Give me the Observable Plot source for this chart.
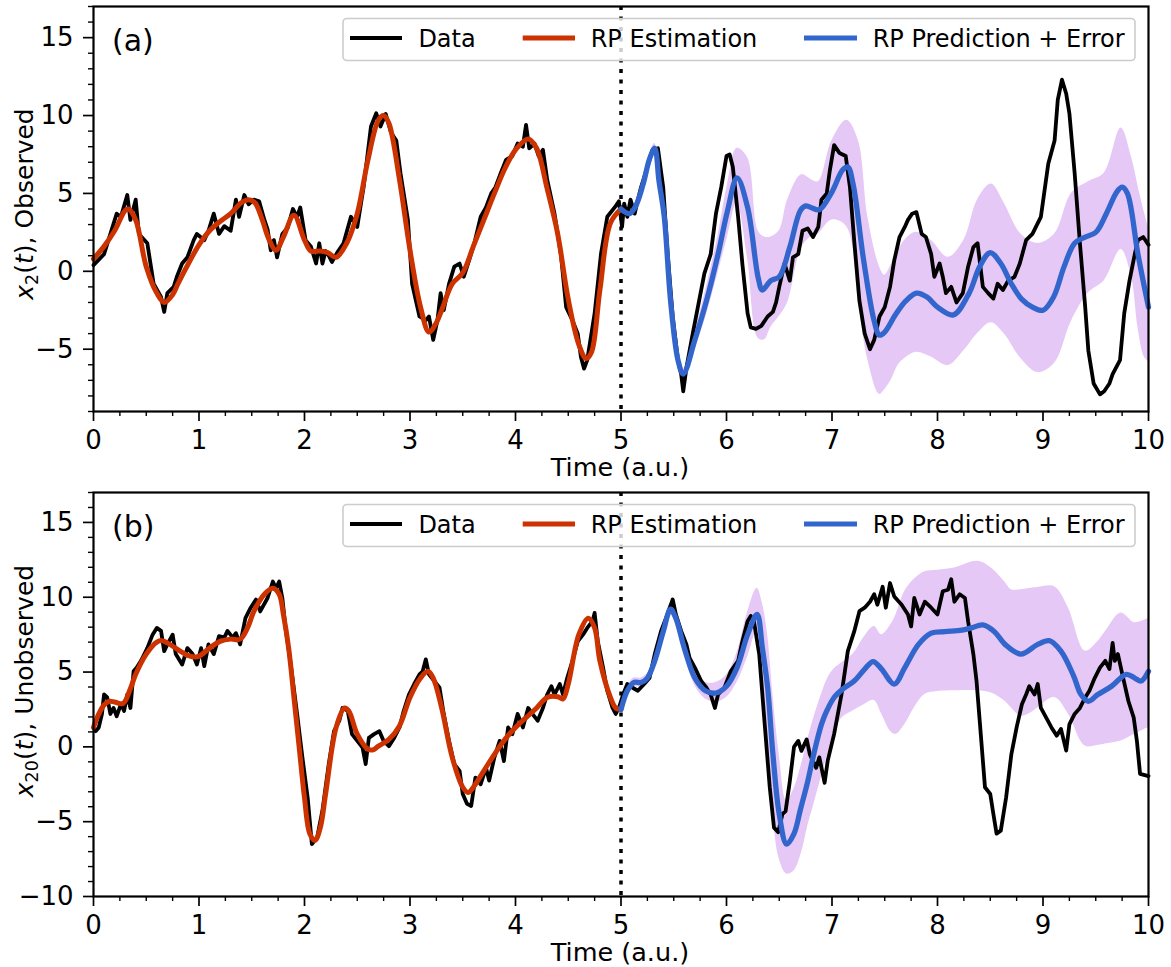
<!DOCTYPE html>
<html>
<head>
<meta charset="utf-8">
<script src="https://cdn.jsdelivr.net/npm/d3@7"></script>
<script src="https://cdn.jsdelivr.net/npm/@observablehq/plot@0.6"></script>
<style>
  html, body { margin: 0; padding: 0; background: #fff; }
  #fig { position: relative; width: 1171px; height: 967px; font-family: "DejaVu Sans", sans-serif; }
  #fig > div { position: absolute; left: 0; }
</style>
</head>
<body>
<div id="fig">
  <div id="panelA" style="top:0"></div>
  <div id="panelB" style="top:480px"></div>
</div>
<script>
// ---- Axis ticks and labels ----
const xMajorTicks = [0, 1, 2, 3, 4, 5, 6, 7, 8, 9, 10];
const aYMajorTicks = [-5, 0, 5, 10, 15];
const bYMajorTicks = [-10, -5, 0, 5, 10, 15];
const aYDomain = [-9, 17];
const bYDomain = [-10, 17];
const xTitle = "Time (a.u.)";
const panelTags = ["(a)", "(b)"];
const seriesNames = ["Data", "RP Estimation", "RP Prediction + Error"];
const splitTime = 5;

// ---- Panel (a): observed x2(t) ----  [time, value]
const aData = [[0,0.4],[0.1,1.1],[0.16,2.4],[0.22,3.7],[0.26,3.5],[0.32,4.9],[0.35,3.3],[0.4,4.6],[0.43,2.4],[0.51,1.8],[0.57,-0.8],[0.64,-1.65],[0.67,-2.6],[0.7,-1.4],[0.76,-1.0],[0.79,-0.35],[0.84,0.5],[0.89,0.9],[0.95,2.0],[0.98,2.4],[1.05,2.0],[1.09,2.6],[1.14,3.7],[1.19,2.4],[1.24,2.9],[1.3,2.6],[1.35,4.6],[1.38,3.5],[1.43,4.9],[1.47,4.3],[1.52,4.6],[1.57,4.5],[1.62,3.3],[1.65,2.7],[1.68,1.35],[1.71,2.0],[1.74,0.9],[1.79,2.4],[1.84,2.8],[1.89,4.0],[1.93,3.5],[1.96,4.1],[2.01,2.0],[2.06,1.6],[2.11,0.5],[2.14,1.8],[2.17,0.5],[2.2,1.3],[2.23,1.0],[2.26,0.6],[2.31,1.2],[2.37,1.8],[2.44,3.5],[2.5,2.85],[2.56,5.4],[2.63,9.3],[2.68,10.15],[2.72,9.3],[2.77,10.1],[2.82,8.9],[2.87,8.4],[2.91,6.3],[2.98,3.3],[3.02,-0.8],[3.09,-2.9],[3.15,-3.15],[3.18,-2.9],[3.22,-4.4],[3.26,-3.15],[3.29,-1.4],[3.32,-2.5],[3.37,-0.8],[3.42,0.3],[3.47,0.5],[3.51,-0.35],[3.56,0.7],[3.61,1.8],[3.67,3.5],[3.72,4.1],[3.77,5.0],[3.81,5.4],[3.86,6.3],[3.91,7.15],[3.97,7.4],[4.02,8.2],[4.07,8.0],[4.1,9.4],[4.13,7.9],[4.18,8.2],[4.22,7.4],[4.26,7.8],[4.3,5.9],[4.37,3.7],[4.43,1.1],[4.48,-2.3],[4.54,-3.15],[4.59,-4.0],[4.62,-5.5],[4.65,-6.25],[4.68,-5.7],[4.75,-2.7],[4.81,1.1],[4.87,3.5],[4.94,4.1],[4.98,4.5],[5.01,2.85],[5.03,4.35],[5.06,3.5],[5.09,4.6],[5.13,3.7],[5.16,4.6],[5.19,5.4],[5.25,6.7],[5.3,7.8],[5.35,7.9],[5.4,5.4],[5.44,1.35],[5.49,-2.9],[5.54,-5.7],[5.57,-6.6],[5.59,-7.7],[5.62,-6.2],[5.68,-4.0],[5.74,-1.9],[5.79,-0.15],[5.85,1.1],[5.9,3.7],[5.95,5.4],[6.0,7.4],[6.03,7.5],[6.06,6.7],[6.11,3.5],[6.15,0.5],[6.2,-2.7],[6.23,-3.6],[6.28,-3.7],[6.33,-3.5],[6.39,-2.9],[6.44,-2.6],[6.47,-2.0],[6.5,-1.0],[6.55,0.5],[6.6,-0.6],[6.63,0.9],[6.68,1.1],[6.72,2.6],[6.77,2.75],[6.82,2.2],[6.87,2.85],[6.9,4.6],[6.95,5.0],[6.98,6.5],[7.02,8.1],[7.07,7.6],[7.13,7.4],[7.17,5.4],[7.21,2.0],[7.26,-1.9],[7.31,-4.0],[7.36,-5.0],[7.4,-4.4],[7.45,-2.9],[7.5,-2.3],[7.55,-1.0],[7.59,0.7],[7.64,2.2],[7.69,2.85],[7.72,3.3],[7.76,3.7],[7.8,3.8],[7.85,2.4],[7.89,2.2],[7.94,1.1],[7.97,-0.35],[8.02,0.5],[8.05,-0.35],[8.08,-1.4],[8.13,-1.0],[8.18,-2.0],[8.24,-1.4],[8.29,0.3],[8.34,1.55],[8.38,1.8],[8.43,-1.0],[8.48,-1.4],[8.53,-1.75],[8.57,-0.8],[8.62,-1.2],[8.67,-0.6],[8.73,-0.35],[8.78,0.5],[8.84,2.0],[8.9,2.4],[8.98,3.5],[9.05,6.9],[9.11,8.4],[9.14,11.0],[9.18,12.3],[9.22,11.4],[9.25,10.15],[9.3,6.3],[9.35,1.8],[9.4,-2.3],[9.43,-5.1],[9.48,-7.2],[9.54,-7.9],[9.58,-7.7],[9.63,-7.2],[9.66,-6.6],[9.73,-5.7],[9.77,-2.7],[9.82,-0.6],[9.87,1.1],[9.9,2.0],[9.95,2.2],[10,1.7]];
const aEst = [[0,0.8],[0.1,1.6],[0.2,2.6],[0.3,3.9],[0.33,4.0],[0.4,3.3],[0.5,0.3],[0.6,-1.4],[0.67,-2.0],[0.75,-1.5],[0.8,-0.8],[0.9,0.5],[1.0,1.7],[1.1,2.6],[1.2,3.2],[1.3,3.7],[1.4,4.4],[1.47,4.6],[1.53,4.4],[1.6,3.3],[1.66,2.1],[1.73,1.35],[1.8,2.2],[1.9,3.6],[2.0,2.0],[2.06,1.3],[2.15,1.3],[2.22,1.2],[2.3,0.9],[2.4,1.8],[2.5,3.7],[2.6,7.1],[2.7,9.7],[2.75,10.0],[2.8,9.5],[2.9,5.9],[3.0,1.35],[3.1,-2.3],[3.18,-3.9],[3.25,-3.3],[3.3,-2.5],[3.4,-0.8],[3.5,-0.1],[3.6,1.6],[3.7,3.3],[3.8,5.0],[3.9,6.6],[4.0,7.8],[4.12,8.5],[4.2,7.9],[4.3,5.3],[4.4,2.4],[4.5,-1.8],[4.6,-4.7],[4.67,-5.6],[4.72,-5.2],[4.8,-1.2],[4.9,3.1],[5.0,4.0]];
const aPred = [[5.0,4.0],[5.08,3.7],[5.14,4.2],[5.21,5.6],[5.27,7.2],[5.32,7.9],[5.36,5.8],[5.41,3.5],[5.47,-1.9],[5.54,-5.7],[5.59,-6.6],[5.7,-4.4],[5.81,-1.9],[5.92,1.1],[6.01,3.9],[6.1,6.0],[6.2,4.1],[6.3,-0.4],[6.34,-1.2],[6.42,-0.6],[6.5,-0.35],[6.6,1.55],[6.7,3.9],[6.75,4.2],[6.8,4.1],[6.88,3.95],[7.0,5.1],[7.1,6.5],[7.15,6.7],[7.2,5.6],[7.3,0.7],[7.4,-3.2],[7.45,-4.1],[7.5,-3.9],[7.6,-2.8],[7.7,-1.9],[7.8,-1.4],[7.9,-1.65],[8.0,-2.3],[8.15,-2.8],[8.3,-1.4],[8.4,0.3],[8.5,1.2],[8.6,0.5],[8.7,-0.8],[8.8,-1.8],[8.9,-2.3],[9.0,-2.5],[9.1,-1.65],[9.2,0.3],[9.3,1.8],[9.4,2.2],[9.5,2.5],[9.6,3.7],[9.7,5.1],[9.75,5.4],[9.8,5.0],[9.9,1.1],[10,-2.3]];
// [time, lower, upper]
const aBand = [[5.0,3.9,4.1],[5.08,3.5,3.9],[5.14,4.0,4.4],[5.21,5.3,5.9],[5.27,6.9,7.5],[5.32,7.6,8.2],[5.36,5.4,6.3],[5.41,3.0,3.9],[5.47,-2.3,-1.5],[5.54,-6.0,-5.3],[5.59,-6.9,-6.3],[5.7,-5.0,-3.9],[5.81,-2.8,-1.0],[5.92,-0.1,2.3],[6.01,2.2,5.6],[6.1,4.4,7.9],[6.2,0.8,7.3],[6.3,-4.3,2.6],[6.36,-4.4,2.2],[6.42,-3.6,2.2],[6.5,-2.9,2.6],[6.58,-2.0,4.6],[6.71,1.5,6.2],[6.8,2.2,5.9],[6.87,2.4,5.75],[7.0,3.3,8.4],[7.14,2.85,9.7],[7.25,-1.9,8.4],[7.34,-5.7,3.5],[7.45,-7.9,0.3],[7.5,-7.6,-0.25],[7.56,-7.0,0.4],[7.63,-6.0,1.35],[7.69,-5.6,2.0],[7.8,-5.2,2.5],[7.94,-5.5,2.0],[8.1,-6.05,0.9],[8.25,-5.1,2.0],[8.38,-4.0,4.6],[8.51,-3.3,5.6],[8.63,-4.0,4.4],[8.79,-5.6,2.4],[8.95,-6.5,1.8],[9.11,-5.9,2.4],[9.27,-3.2,5.0],[9.43,-1.4,5.75],[9.58,-0.6,6.3],[9.74,1.4,9.2],[9.84,-0.4,7.3],[9.9,-3.6,5.5],[9.96,-5.5,3.8],[10,-5.8,2.8]];

// ---- Panel (b): unobserved x20(t) ----  [time, value]
const bData = [[0,1.3],[0.02,1.05],[0.05,1.3],[0.08,2.2],[0.1,3.5],[0.13,3.3],[0.16,2.2],[0.19,2.6],[0.22,2.05],[0.26,2.85],[0.29,2.4],[0.32,3.5],[0.35,2.6],[0.38,5.05],[0.41,5.3],[0.45,5.75],[0.51,6.6],[0.56,7.5],[0.6,7.95],[0.64,7.75],[0.67,6.4],[0.7,6.85],[0.75,7.5],[0.78,6.2],[0.84,5.5],[0.89,6.6],[0.94,6.2],[0.98,5.5],[1.02,6.6],[1.05,5.4],[1.09,6.85],[1.14,6.2],[1.19,7.4],[1.24,7.3],[1.27,7.75],[1.32,7.3],[1.35,7.6],[1.39,6.85],[1.44,8.6],[1.49,9.3],[1.54,9.85],[1.58,9.05],[1.65,9.95],[1.7,11.05],[1.73,10.6],[1.76,11.05],[1.79,9.95],[1.82,7.95],[1.87,5.5],[1.93,2.2],[1.98,-0.7],[2.03,-3.4],[2.07,-6.5],[2.12,-6.05],[2.17,-4.25],[2.23,-1.15],[2.28,1.05],[2.33,1.75],[2.36,2.6],[2.41,2.4],[2.45,0.85],[2.5,0.4],[2.55,-0.05],[2.58,-1.15],[2.61,0.6],[2.66,0.85],[2.71,1.05],[2.75,0.4],[2.8,0.05],[2.85,0.6],[2.9,1.3],[2.94,2.4],[2.99,3.5],[3.04,4.2],[3.09,4.85],[3.12,5.05],[3.15,5.85],[3.18,4.85],[3.23,4.4],[3.28,3.95],[3.32,2.2],[3.37,0.4],[3.42,-1.15],[3.47,-1.6],[3.5,-3.15],[3.54,-3.8],[3.58,-3.95],[3.62,-2.05],[3.67,-2.5],[3.72,-1.4],[3.75,-2.25],[3.8,-0.7],[3.85,0.4],[3.89,-0.95],[3.93,1.3],[3.97,0.85],[4.02,2.2],[4.07,1.3],[4.12,2.6],[4.16,2.2],[4.21,1.75],[4.26,2.6],[4.3,3.5],[4.34,4.05],[4.37,3.5],[4.42,4.2],[4.45,3.5],[4.49,4.6],[4.54,5.75],[4.59,7.05],[4.64,7.5],[4.68,7.95],[4.73,8.4],[4.75,8.95],[4.78,7.05],[4.83,5.3],[4.87,3.75],[4.92,2.6],[4.95,2.2],[4.98,2.6],[5.02,3.5],[5.06,4.2],[5.11,3.95],[5.16,3.75],[5.22,4.2],[5.27,4.6],[5.32,6.2],[5.38,7.75],[5.44,8.85],[5.49,9.85],[5.52,8.85],[5.57,7.75],[5.62,6.85],[5.65,5.95],[5.7,5.3],[5.76,4.4],[5.81,3.95],[5.85,3.5],[5.89,2.6],[5.92,3.5],[5.98,3.95],[6.04,5.05],[6.11,5.75],[6.15,7.05],[6.2,8.4],[6.23,8.75],[6.26,8.4],[6.31,6.2],[6.36,1.7],[6.41,-2.7],[6.45,-5.4],[6.49,-5.7],[6.53,-4.5],[6.56,-4.3],[6.6,-2.3],[6.64,0.0],[6.68,0.4],[6.71,-0.27],[6.76,0.5],[6.79,-0.5],[6.85,-1.4],[6.88,-0.7],[6.93,-2.4],[6.96,-0.9],[7.02,0.85],[7.09,3.5],[7.15,6.4],[7.21,7.7],[7.26,9.07],[7.31,9.3],[7.36,9.7],[7.4,10.2],[7.43,9.5],[7.48,10.7],[7.51,9.3],[7.55,10.95],[7.59,10.05],[7.66,9.5],[7.72,8.85],[7.75,8.05],[7.78,9.95],[7.83,8.85],[7.88,9.7],[7.94,9.3],[8.0,8.85],[8.05,10.4],[8.1,10.5],[8.13,11.2],[8.16,9.7],[8.21,10.2],[8.26,9.95],[8.29,8.4],[8.34,6.2],[8.37,4.4],[8.4,1.75],[8.45,-2.7],[8.5,-3.15],[8.53,-4.5],[8.56,-5.8],[8.6,-5.6],[8.65,-3.4],[8.7,-0.5],[8.75,1.3],[8.8,2.85],[8.84,3.5],[8.87,4.05],[8.92,3.5],[8.95,4.2],[8.98,2.6],[9.03,1.95],[9.08,1.3],[9.13,0.75],[9.17,1.2],[9.22,-0.25],[9.25,1.5],[9.3,2.2],[9.35,2.6],[9.4,3.3],[9.44,3.75],[9.49,4.6],[9.54,5.3],[9.59,5.75],[9.63,5.2],[9.66,6.95],[9.68,5.75],[9.71,6.2],[9.76,4.6],[9.81,3.05],[9.86,1.95],[9.89,0.4],[9.92,-1.8],[10,-1.95]];
const bEst = [[0,1.3],[0.05,2.2],[0.1,2.8],[0.15,3.05],[0.2,3.0],[0.28,2.9],[0.35,3.9],[0.4,4.85],[0.5,6.2],[0.6,7.0],[0.65,7.1],[0.7,6.95],[0.8,6.5],[0.9,6.1],[0.97,6.0],[1.0,6.05],[1.1,6.6],[1.2,7.05],[1.3,7.2],[1.39,7.2],[1.46,7.95],[1.52,9.05],[1.62,10.2],[1.7,10.6],[1.76,10.2],[1.8,8.85],[1.85,6.6],[1.9,3.3],[1.95,-0.05],[2.0,-3.4],[2.05,-5.8],[2.1,-6.25],[2.15,-5.4],[2.2,-3.15],[2.3,1.3],[2.38,2.6],[2.42,2.4],[2.5,0.85],[2.6,-0.15],[2.65,-0.2],[2.7,0.05],[2.8,0.5],[2.9,1.4],[3.0,3.3],[3.1,4.6],[3.17,5.05],[3.22,4.6],[3.3,2.6],[3.4,-0.7],[3.5,-2.7],[3.55,-3.05],[3.6,-2.7],[3.7,-1.6],[3.8,-0.5],[3.9,0.5],[4.0,1.3],[4.1,1.95],[4.2,2.6],[4.3,3.3],[4.4,3.35],[4.45,3.2],[4.5,4.2],[4.6,7.5],[4.69,8.6],[4.75,7.95],[4.8,5.75],[4.9,3.3],[4.95,2.6],[5.0,2.5]];
const bPred = [[5.0,2.5],[5.06,3.75],[5.12,4.3],[5.19,4.3],[5.25,4.6],[5.32,5.75],[5.4,7.7],[5.47,9.2],[5.52,8.6],[5.6,6.6],[5.7,4.6],[5.8,3.75],[5.9,3.6],[6.0,4.05],[6.1,5.3],[6.2,7.5],[6.29,8.85],[6.34,6.6],[6.39,3.95],[6.44,-0.5],[6.5,-4.5],[6.57,-6.5],[6.64,-5.8],[6.7,-4.2],[6.77,-2.3],[6.83,-0.4],[6.9,1.5],[6.95,2.4],[7.02,3.3],[7.1,3.85],[7.21,4.4],[7.31,5.2],[7.39,5.7],[7.47,5.2],[7.59,4.2],[7.69,5.3],[7.82,6.85],[7.94,7.6],[8.07,7.7],[8.23,7.8],[8.32,7.95],[8.43,8.15],[8.54,7.7],[8.64,6.85],[8.79,6.2],[8.95,6.85],[9.06,7.1],[9.17,6.4],[9.29,4.75],[9.36,3.5],[9.43,3.05],[9.52,3.5],[9.65,4.05],[9.79,4.85],[9.87,4.6],[9.93,4.4],[10,5.05]];
const bBand = [[5.0,2.3,2.7],[5.06,3.5,4.0],[5.12,4.0,4.6],[5.19,4.0,4.6],[5.25,4.3,4.9],[5.32,5.4,6.1],[5.4,7.3,8.1],[5.47,8.8,9.6],[5.52,8.2,9.0],[5.6,6.2,7.0],[5.7,4.1,5.1],[5.8,3.2,4.3],[5.9,3.0,4.3],[6.0,3.3,4.8],[6.1,4.3,6.3],[6.2,6.0,9.0],[6.29,7.8,10.6],[6.34,3.5,9.6],[6.39,0.0,7.5],[6.44,-4.5,3.5],[6.5,-7.5,-0.5],[6.57,-8.5,-3.6],[6.64,-8.3,-2.8],[6.71,-7.1,-1.2],[6.77,-5.3,0.5],[6.83,-3.8,2.0],[6.9,-2.0,3.5],[6.96,-0.5,4.6],[7.02,0.6,5.2],[7.09,1.9,5.6],[7.2,2.4,6.2],[7.3,2.8,7.3],[7.4,3.1,8.05],[7.47,2.2,7.5],[7.56,1.0,8.2],[7.61,0.85,8.9],[7.69,1.5,10.4],[7.78,2.6,11.2],[7.88,3.5,11.7],[8.0,3.7,11.8],[8.16,3.75,11.95],[8.38,3.75,12.4],[8.51,3.6,11.95],[8.64,3.05,11.0],[8.7,2.6,10.5],[8.79,2.05,10.5],[8.89,2.3,10.6],[8.95,2.6,10.65],[9.11,3.3,10.7],[9.24,2.2,9.3],[9.4,0.05,6.4],[9.52,0.1,7.05],[9.59,0.2,7.7],[9.74,0.4,8.95],[9.87,0.85,8.3],[10,1.3,8.6]];

// ---- Drawing ----
const W = 1171;
const palette = { data: "#000000", est: "#cc3300", pred: "#3366cc", band: "#e6c8f6" };
const fontFamily = '"DejaVu Sans", sans-serif';
const fmt = d => (d < 0 ? "\u2212" + Math.abs(d) : String(d));
const toRows = a => a.map(([t, v]) => ({ t, v }));
const xMinorTicks = d3.range(0, 10.001, 0.25).filter(t => !xMajorTicks.includes(t));

function drawPanel(p) {
  const yMinor = d3.range(p.yDomain[0], p.yDomain[1] + 0.001, 1).filter(v => !p.yMajor.includes(v));
  return Plot.plot({
    width: W,
    height: p.height,
    marginLeft: 93,
    marginRight: 23,
    marginTop: p.marginTop,
    marginBottom: p.marginBottom,
    style: { fontFamily, fontSize: "26px", color: "#000", background: "#fff", overflow: "visible" },
    x: { domain: [0, 10], label: null },
    y: { domain: p.yDomain, label: null },
    marks: [
      Plot.areaY(p.band.map(([t, lo, hi]) => ({ t, lo, hi })), {
        x: "t", y1: "lo", y2: "hi", fill: palette.band, curve: "catmull-rom"
      }),
      Plot.line(toRows(p.data), { x: "t", y: "v", stroke: palette.data, strokeWidth: 3.8, strokeLinejoin: "round" }),
      Plot.ruleX([splitTime], { stroke: "#000", strokeWidth: 3.5, strokeDasharray: "4 6.5" }),
      Plot.line(toRows(p.est), { x: "t", y: "v", stroke: palette.est, strokeWidth: 5, curve: "catmull-rom" }),
      Plot.line(toRows(p.pred), { x: "t", y: "v", stroke: palette.pred, strokeWidth: 5.3, curve: "catmull-rom" }),
      Plot.axisX(xMajorTicks, { tickSize: 10, tickPadding: 9, tickFormat: fmt, strokeWidth: 1.7, label: null }),
      Plot.axisX(xMinorTicks, { tickSize: 5, tickFormat: () => "", strokeWidth: 1.4, label: null }),
      Plot.axisY(p.yMajor, { tickSize: 10, tickPadding: 10, tickFormat: fmt, strokeWidth: 1.7, label: null }),
      Plot.axisY(yMinor, { tickSize: 5, tickFormat: () => "", strokeWidth: 1.4, label: null }),
      Plot.frame({ stroke: "#000", strokeWidth: 2.2 })
    ]
  });
}

const panels = [
  { el: "#panelA", offset: 0, height: 480, marginTop: 6, marginBottom: 69, yDomain: aYDomain, yMajor: aYMajorTicks,
    data: aData, est: aEst, pred: aPred, band: aBand, tag: panelTags[0], sub: "2", yName: "Observed", yCenter: 204 },
  { el: "#panelB", offset: 480, height: 487, marginTop: 12, marginBottom: 71, yDomain: bYDomain, yMajor: bYMajorTicks,
    data: bData, est: bEst, pred: bPred, band: bBand, tag: panelTags[1], sub: "20", yName: "Unobserved", yCenter: 681 }
];

panels.forEach(p => document.querySelector(p.el).appendChild(drawPanel(p)));

// ---- Text layer: panel tags, axis titles and legends ----
const layer = d3.select("#fig").append("svg")
  .attr("width", W).attr("height", 967)
  .style("position", "absolute").style("left", 0).style("top", 0)
  .style("pointer-events", "none")
  .attr("font-family", fontFamily);

const legendColors = [palette.data, palette.est, palette.pred];
const legendLines = [[350, 402], [522.7, 575], [804, 857]];
const legendTextX = [418.4, 590.7, 872.7];

panels.forEach(p => {
  const top = p.offset + p.marginTop;
  const bottom = p.offset + p.height - p.marginBottom;

  layer.append("text").attr("x", 112).attr("y", top + 45).attr("font-size", 30).text(p.tag);

  layer.append("text").attr("x", 620).attr("y", bottom + 64.5).attr("font-size", 25.5)
    .attr("text-anchor", "middle").text(xTitle);

  const yl = layer.append("text").attr("font-size", 25).attr("text-anchor", "middle")
    .attr("transform", `translate(33,${p.yCenter}) rotate(-90)`);
  yl.append("tspan").attr("font-style", "italic").text("x");
  yl.append("tspan").attr("font-size", 17.5).attr("dy", 5).text(p.sub);
  yl.append("tspan").attr("dy", -5).text("(");
  yl.append("tspan").attr("font-style", "italic").text("t");
  yl.append("tspan").text(`), ${p.yName}`);

  const ly = top + 12.5;
  layer.append("rect").attr("x", 343).attr("y", ly).attr("width", 792).attr("height", 42).attr("rx", 4)
    .attr("fill", "#fff").attr("fill-opacity", 0.8).attr("stroke", "#cccccc").attr("stroke-width", 1.6);
  seriesNames.forEach((name, i) => {
    layer.append("line").attr("x1", legendLines[i][0]).attr("x2", legendLines[i][1])
      .attr("y1", ly + 19.5).attr("y2", ly + 19.5)
      .attr("stroke", legendColors[i]).attr("stroke-width", i === 0 ? 4 : 5);
    layer.append("text").attr("x", legendTextX[i]).attr("y", ly + 28).attr("font-size", 24).text(name);
  });
});
</script>
</body>
</html>
